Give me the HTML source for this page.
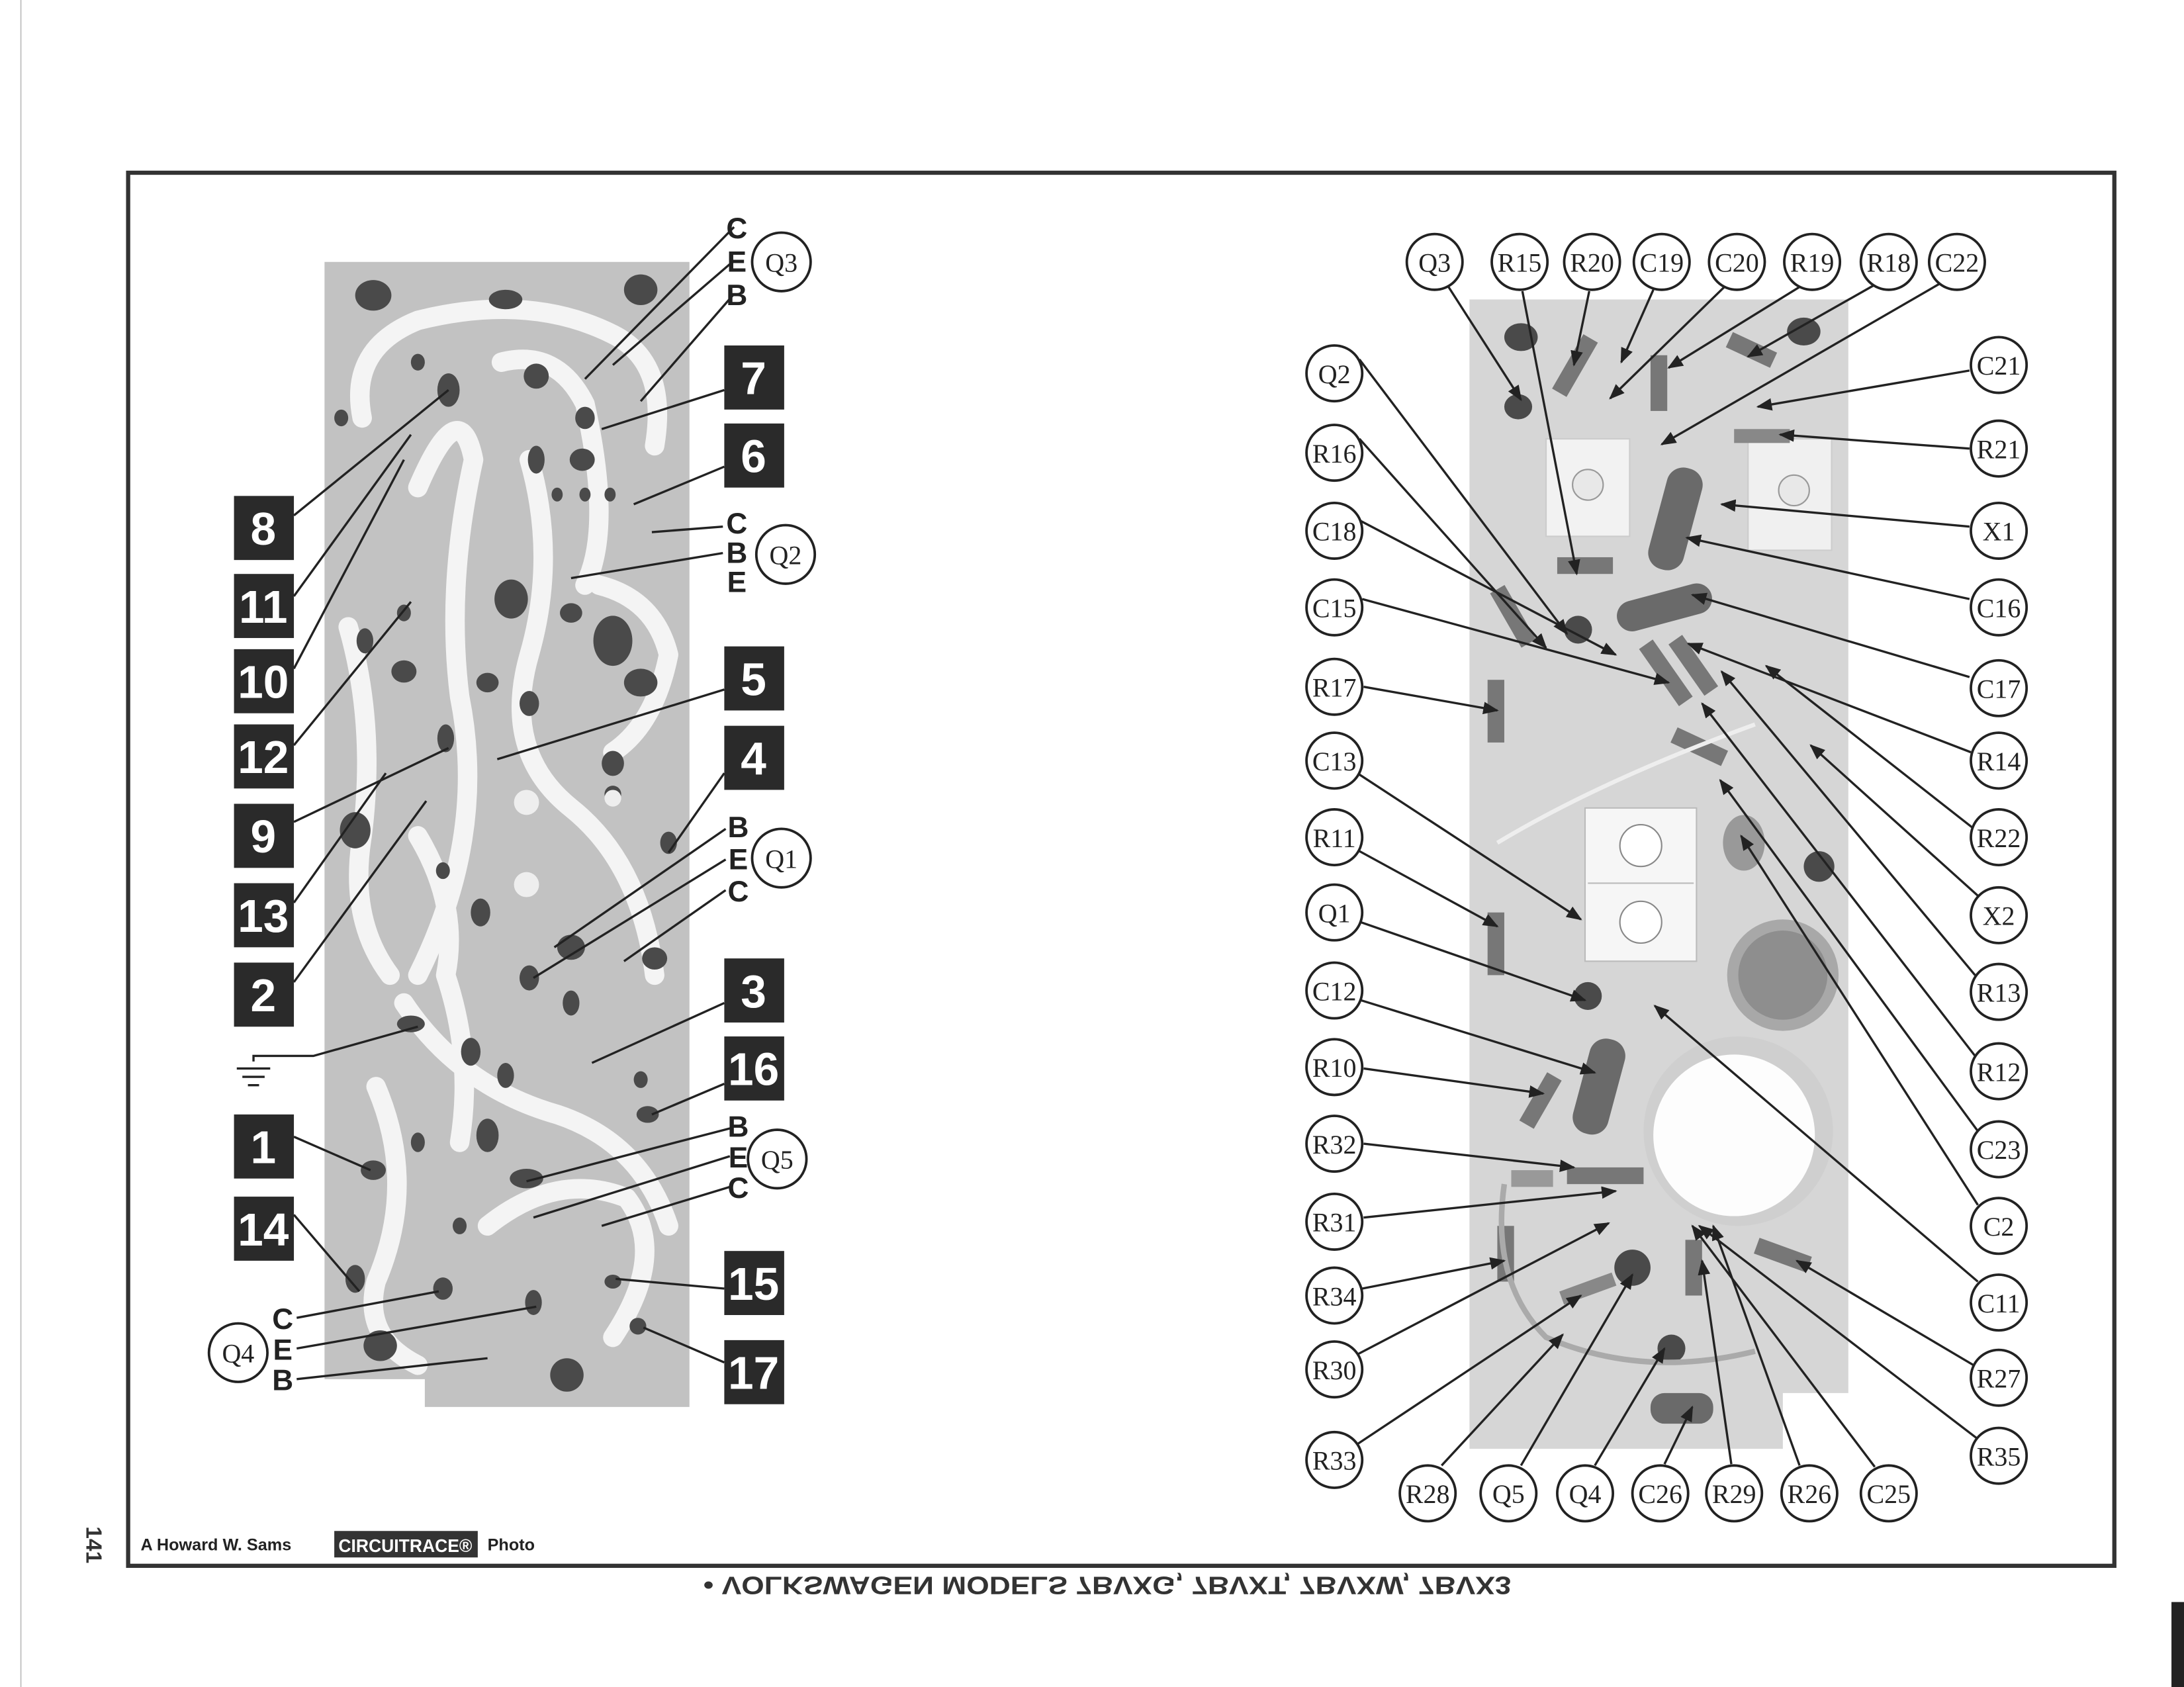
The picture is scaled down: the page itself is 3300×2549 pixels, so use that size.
<!DOCTYPE html>
<html><head><meta charset="utf-8"><style>
html,body{margin:0;padding:0;background:#fff;}
svg{display:block;}
.bx{fill:#2a2a2a;}
.bt{fill:#fff;font-family:"Liberation Sans",sans-serif;font-weight:bold;font-size:33px;text-anchor:middle;}
.lt{fill:#222;font-family:"Liberation Sans",sans-serif;font-weight:bold;font-size:21px;text-anchor:middle;}
.ct{fill:#222;font-family:"Liberation Serif",serif;font-size:19px;text-anchor:middle;}
.ln{stroke:#222;stroke-width:1.6;fill:none;}
.cc{fill:#fff;stroke:#222;stroke-width:1.8;}
.tr{fill:none;stroke:#f4f4f4;stroke-linecap:round;stroke-linejoin:round;}
.bl{fill:#4a4a4a;}
.cp{fill:#6a6a6a;}
</style></head><body>
<svg width="3300" height="2549" viewBox="0 0 1568 1211" preserveAspectRatio="none" xmlns="http://www.w3.org/2000/svg">
<defs>
<marker id="ar" viewBox="0 0 10 10" refX="9" refY="5" markerWidth="7" markerHeight="7" orient="auto"><path d="M0,1 L10,5 L0,9 z" fill="#222"/></marker>
</defs>
<rect x="0" y="0" width="1568" height="1211" fill="#fff"/>
<line x1="15" y1="0" x2="15" y2="1211" stroke="#bbb" stroke-width="0.8"/>
<rect x="1559" y="1150" width="9" height="61" fill="#222"/>
<rect x="92" y="124" width="1426" height="1000" fill="none" stroke="#333" stroke-width="3"/>

<path d="M233,188 L495,188 L495,1010 L305,1010 L305,990 L233,990 Z" fill="#c2c2c2"/>
<g class="tr" stroke-width="14">
<path d="M260,300 Q250,250 300,230 Q380,210 440,240 Q480,260 470,320"/>
<path d="M300,350 Q330,280 340,330 Q320,420 330,500 Q350,600 300,700"/>
<path d="M360,260 Q400,250 420,290 Q440,380 420,420"/>
<path d="M250,450 Q270,520 260,600 Q250,660 280,700"/>
<path d="M380,330 Q400,400 380,470 Q360,540 410,580 Q460,620 470,700"/>
<path d="M290,720 Q330,780 400,800 Q460,820 480,880"/>
<path d="M270,780 Q300,850 270,920 Q260,960 300,980"/>
<path d="M350,880 Q400,840 450,860 Q480,900 440,960"/>
<path d="M430,420 Q470,430 480,470 Q470,520 440,540"/>
<path d="M300,600 Q330,650 320,700 Q340,760 330,820"/>
</g>
<g class="bl">
<ellipse cx="268" cy="212" rx="13" ry="11"/><ellipse cx="460" cy="208" rx="12" ry="11"/>
<ellipse cx="255" cy="596" rx="11" ry="13"/><ellipse cx="273" cy="966" rx="12" ry="11"/>
<ellipse cx="407" cy="987" rx="12" ry="12"/>
<ellipse cx="322" cy="280" rx="8" ry="12"/><ellipse cx="385" cy="270" rx="9" ry="9"/><ellipse cx="363" cy="215" rx="12" ry="7"/>
<ellipse cx="420" cy="300" rx="7" ry="8"/><ellipse cx="385" cy="330" rx="6" ry="10"/><ellipse cx="418" cy="330" rx="9" ry="8"/>
<ellipse cx="400" cy="355" rx="4" ry="5"/><ellipse cx="420" cy="355" rx="4" ry="5"/><ellipse cx="438" cy="355" rx="4" ry="5"/>
<ellipse cx="367" cy="430" rx="12" ry="14"/><ellipse cx="440" cy="460" rx="14" ry="18"/><ellipse cx="460" cy="490" rx="12" ry="10"/>
<ellipse cx="350" cy="490" rx="8" ry="7"/><ellipse cx="380" cy="505" rx="7" ry="9"/><ellipse cx="410" cy="440" rx="8" ry="7"/>
<ellipse cx="290" cy="482" rx="9" ry="8"/><ellipse cx="320" cy="530" rx="6" ry="10"/><ellipse cx="262" cy="460" rx="6" ry="9"/>
<ellipse cx="440" cy="548" rx="8" ry="9"/><ellipse cx="440" cy="570" rx="6" ry="6"/><ellipse cx="480" cy="605" rx="6" ry="8"/>
<ellipse cx="345" cy="655" rx="7" ry="10"/><ellipse cx="318" cy="625" rx="5" ry="6"/><ellipse cx="410" cy="680" rx="10" ry="9"/>
<ellipse cx="380" cy="702" rx="7" ry="9"/><ellipse cx="410" cy="720" rx="6" ry="9"/><ellipse cx="470" cy="688" rx="9" ry="8"/>
<ellipse cx="295" cy="735" rx="10" ry="6"/><ellipse cx="338" cy="755" rx="7" ry="10"/><ellipse cx="363" cy="772" rx="6" ry="9"/>
<ellipse cx="350" cy="815" rx="8" ry="12"/><ellipse cx="268" cy="840" rx="9" ry="7"/><ellipse cx="378" cy="846" rx="12" ry="7"/>
<ellipse cx="255" cy="918" rx="7" ry="10"/><ellipse cx="318" cy="925" rx="7" ry="8"/><ellipse cx="383" cy="935" rx="6" ry="9"/>
<ellipse cx="465" cy="800" rx="8" ry="6"/><ellipse cx="460" cy="775" rx="5" ry="6"/><ellipse cx="440" cy="920" rx="6" ry="5"/>
<ellipse cx="458" cy="952" rx="6" ry="6"/><ellipse cx="300" cy="820" rx="5" ry="7"/><ellipse cx="330" cy="880" rx="5" ry="6"/>
<ellipse cx="300" cy="260" rx="5" ry="6"/><ellipse cx="245" cy="300" rx="5" ry="6"/><ellipse cx="290" cy="440" rx="5" ry="6"/>
</g>
<g fill="#eee"><circle cx="378" cy="576" r="9"/><circle cx="378" cy="635" r="9"/><circle cx="440" cy="573" r="6"/></g>

<g class="ln">
<line x1="527" y1="163" x2="420" y2="272"/><line x1="527" y1="187" x2="440" y2="262"/><line x1="527" y1="211" x2="460" y2="288"/>
<line x1="520" y1="280" x2="432" y2="308"/><line x1="520" y1="335" x2="455" y2="362"/>
<line x1="519" y1="378" x2="468" y2="382"/><line x1="519" y1="397" x2="410" y2="415"/>
<line x1="520" y1="495" x2="357" y2="545"/><line x1="520" y1="555" x2="480" y2="612"/>
<line x1="521" y1="595" x2="398" y2="680"/><line x1="521" y1="617" x2="383" y2="702"/><line x1="521" y1="639" x2="448" y2="690"/>
<line x1="520" y1="720" x2="425" y2="763"/><line x1="520" y1="778" x2="468" y2="800"/>
<line x1="524" y1="810" x2="378" y2="848"/><line x1="524" y1="830" x2="383" y2="874"/><line x1="524" y1="852" x2="432" y2="880"/>
<line x1="520" y1="925" x2="442" y2="918"/><line x1="520" y1="978" x2="462" y2="953"/>
<line x1="211" y1="370" x2="322" y2="280"/><line x1="211" y1="428" x2="295" y2="312"/><line x1="211" y1="480" x2="290" y2="330"/>
<line x1="211" y1="535" x2="295" y2="432"/><line x1="211" y1="590" x2="322" y2="537"/><line x1="211" y1="648" x2="277" y2="555"/>
<line x1="211" y1="705" x2="306" y2="575"/><line x1="211" y1="816" x2="266" y2="840"/><line x1="211" y1="872" x2="258" y2="927"/>
<line x1="213" y1="946" x2="315" y2="927"/><line x1="213" y1="968" x2="385" y2="938"/><line x1="213" y1="990" x2="350" y2="975"/>
<polyline points="182,762 182,758 225,758 300,737"/>
<line x1="170" y1="767" x2="194" y2="767"/><line x1="174" y1="773" x2="190" y2="773"/><line x1="178" y1="779" x2="186" y2="779"/>
</g>

<g>
<rect class="bx" x="520" y="248" width="43" height="46"/><text class="bt" x="541" y="283">7</text>
<rect class="bx" x="520" y="304" width="43" height="46"/><text class="bt" x="541" y="339">6</text>
<rect class="bx" x="520" y="464" width="43" height="46"/><text class="bt" x="541" y="499">5</text>
<rect class="bx" x="520" y="521" width="43" height="46"/><text class="bt" x="541" y="556">4</text>
<rect class="bx" x="520" y="688" width="43" height="46"/><text class="bt" x="541" y="723">3</text>
<rect class="bx" x="520" y="744" width="43" height="46"/><text class="bt" x="541" y="779">16</text>
<rect class="bx" x="520" y="898" width="43" height="46"/><text class="bt" x="541" y="933">15</text>
<rect class="bx" x="520" y="962" width="43" height="46"/><text class="bt" x="541" y="997">17</text>
<rect class="bx" x="168" y="356" width="43" height="46"/><text class="bt" x="189" y="391">8</text>
<rect class="bx" x="168" y="412" width="43" height="46"/><text class="bt" x="189" y="447">11</text>
<rect class="bx" x="168" y="466" width="43" height="46"/><text class="bt" x="189" y="501">10</text>
<rect class="bx" x="168" y="520" width="43" height="46"/><text class="bt" x="189" y="555">12</text>
<rect class="bx" x="168" y="577" width="43" height="46"/><text class="bt" x="189" y="612">9</text>
<rect class="bx" x="168" y="634" width="43" height="46"/><text class="bt" x="189" y="669">13</text>
<rect class="bx" x="168" y="691" width="43" height="46"/><text class="bt" x="189" y="726">2</text>
<rect class="bx" x="168" y="800" width="43" height="46"/><text class="bt" x="189" y="835">1</text>
<rect class="bx" x="168" y="859" width="43" height="46"/><text class="bt" x="189" y="894">14</text>

<text class="lt" x="529" y="171">C</text><text class="lt" x="529" y="195">E</text><text class="lt" x="529" y="219">B</text>
<circle class="cc" cx="561" cy="188" r="21"/><text class="ct" x="561" y="195">Q3</text>
<text class="lt" x="529" y="383">C</text><text class="lt" x="529" y="404">B</text><text class="lt" x="529" y="425">E</text>
<circle class="cc" cx="564" cy="398" r="21"/><text class="ct" x="564" y="405">Q2</text>
<text class="lt" x="530" y="601">B</text><text class="lt" x="530" y="624">E</text><text class="lt" x="530" y="647">C</text>
<circle class="cc" cx="561" cy="616" r="21"/><text class="ct" x="561" y="623">Q1</text>
<text class="lt" x="530" y="816">B</text><text class="lt" x="530" y="838">E</text><text class="lt" x="530" y="860">C</text>
<circle class="cc" cx="558" cy="832" r="21"/><text class="ct" x="558" y="839">Q5</text>
<text class="lt" x="203" y="954">C</text><text class="lt" x="203" y="976">E</text><text class="lt" x="203" y="998">B</text>
<circle class="cc" cx="171" cy="971" r="21"/><text class="ct" x="171" y="978">Q4</text>
</g>

<path d="M1055,215 L1327,215 L1327,1000 L1280,1000 L1280,1040 L1055,1040 Z" fill="#d6d6d6"/>
<g>
<ellipse cx="1092" cy="242" rx="12" ry="10" class="bl"/><ellipse cx="1295" cy="238" rx="12" ry="10" class="bl"/>
<ellipse cx="1090" cy="292" rx="10" ry="9" class="bl"/><ellipse cx="1306" cy="622" rx="11" ry="11" class="bl"/>
<ellipse cx="1200" cy="968" rx="10" ry="10" class="bl"/>
<rect x="1110" y="315" width="60" height="70" fill="#f2f2f2" stroke="#ccc"/><circle cx="1140" cy="348" r="11" fill="#e8e8e8" stroke="#999"/>
<rect x="1255" y="315" width="60" height="80" fill="#f0f0f0" stroke="#ccc"/><circle cx="1288" cy="352" r="11" fill="#e8e8e8" stroke="#999"/>
<rect x="1138" y="580" width="80" height="110" fill="#f6f6f6" stroke="#bbb"/>
<circle cx="1178" cy="607" r="15" fill="#fff" stroke="#888"/><circle cx="1178" cy="662" r="15" fill="#fff" stroke="#888"/>
<line x1="1140" y1="634" x2="1216" y2="634" stroke="#bbb"/>
<circle cx="1248" cy="812" r="68" fill="#cfcfcf"/><circle cx="1245" cy="815" r="58" fill="#fdfdfd"/>
<circle cx="1280" cy="700" r="40" fill="#a8a8a8"/><circle cx="1280" cy="700" r="32" fill="#8e8e8e"/>
<ellipse cx="1252" cy="605" rx="15" ry="20" fill="#999"/>
<rect x="1190" y="335" width="26" height="75" rx="12" transform="rotate(15 1203 372)" class="cp"/>
<rect x="1160" y="425" width="70" height="22" rx="11" transform="rotate(-15 1195 436)" class="cp"/>
<rect x="1135" y="745" width="26" height="70" rx="12" transform="rotate(15 1148 780)" class="cp"/>
<rect x="1185" y="1000" width="45" height="22" rx="10" class="cp"/>
<circle cx="1172" cy="910" r="13" class="bl"/><circle cx="1140" cy="715" r="10" class="bl"/><circle cx="1133" cy="452" r="10" class="bl"/>
<rect x="1118" y="400" width="40" height="12" fill="#777"/>
<rect x="1068" y="488" width="12" height="45" fill="#777"/><rect x="1068" y="655" width="12" height="45" fill="#777"/>
<rect x="1080" y="420" width="12" height="45" fill="#777" transform="rotate(-30 1086 442)"/>
<rect x="1190" y="458" width="12" height="50" fill="#777" transform="rotate(-35 1196 483)"/>
<rect x="1210" y="455" width="12" height="45" fill="#777" transform="rotate(-35 1216 478)"/>
<rect x="1200" y="530" width="40" height="12" fill="#777" transform="rotate(25 1220 536)"/>
<rect x="1125" y="838" width="55" height="12" fill="#777"/><rect x="1100" y="770" width="12" height="40" fill="#777" transform="rotate(30 1106 790)"/>
<rect x="1085" y="840" width="30" height="12" fill="#999"/>
<rect x="1075" y="880" width="12" height="40" fill="#777"/><rect x="1210" y="890" width="12" height="40" fill="#777"/>
<rect x="1260" y="895" width="40" height="12" fill="#777" transform="rotate(20 1280 901)"/>
<rect x="1120" y="920" width="40" height="10" fill="#888" transform="rotate(-20 1140 925)"/>
<rect x="1125" y="240" width="12" height="45" fill="#777" transform="rotate(30 1131 262)"/>
<rect x="1185" y="255" width="12" height="40" fill="#777"/><rect x="1240" y="245" width="35" height="12" fill="#777" transform="rotate(25 1257 251)"/>
<rect x="1245" y="308" width="40" height="10" fill="#888"/>
<path d="M1075,605 Q1150,560 1260,520" stroke="#eee" stroke-width="3" fill="none"/>
<path d="M1080,850 Q1070,920 1110,960 Q1180,990 1260,970" stroke="#aaa" stroke-width="4" fill="none"/>
</g>

<g class="ln" marker-end="url(#ar)">
<line x1="1040" y1="206" x2="1092" y2="287"/>
<line x1="1093" y1="209" x2="1132" y2="412"/>
<line x1="1141" y1="209" x2="1130" y2="262"/>
<line x1="1187" y1="208" x2="1164" y2="260"/>
<line x1="1238" y1="206" x2="1156" y2="286"/>
<line x1="1292" y1="206" x2="1198" y2="264"/>
<line x1="1345" y1="205" x2="1255" y2="256"/>
<line x1="1392" y1="204" x2="1193" y2="319"/>
<line x1="1414" y1="266" x2="1262" y2="292"/>
<line x1="1414" y1="322" x2="1278" y2="312"/>
<line x1="1414" y1="378" x2="1236" y2="362"/>
<line x1="1414" y1="430" x2="1211" y2="386"/>
<line x1="1414" y1="486" x2="1215" y2="427"/>
<line x1="1415" y1="540" x2="1212" y2="462"/>
<line x1="1416" y1="594" x2="1268" y2="478"/>
<line x1="1420" y1="643" x2="1300" y2="535"/>
<line x1="1418" y1="700" x2="1236" y2="482"/>
<line x1="1418" y1="758" x2="1222" y2="505"/>
<line x1="1420" y1="812" x2="1235" y2="560"/>
<line x1="1420" y1="865" x2="1250" y2="600"/>
<line x1="1420" y1="920" x2="1188" y2="722"/>
<line x1="1417" y1="980" x2="1290" y2="905"/>
<line x1="1420" y1="1033" x2="1220" y2="880"/>
<line x1="976" y1="258" x2="1125" y2="455"/>
<line x1="976" y1="315" x2="1110" y2="465"/>
<line x1="977" y1="374" x2="1160" y2="470"/>
<line x1="978" y1="430" x2="1198" y2="490"/>
<line x1="979" y1="493" x2="1075" y2="510"/>
<line x1="976" y1="556" x2="1135" y2="660"/>
<line x1="976" y1="611" x2="1075" y2="665"/>
<line x1="977" y1="662" x2="1138" y2="718"/>
<line x1="977" y1="718" x2="1145" y2="770"/>
<line x1="979" y1="767" x2="1108" y2="785"/>
<line x1="979" y1="821" x2="1130" y2="838"/>
<line x1="979" y1="874" x2="1160" y2="855"/>
<line x1="978" y1="925" x2="1080" y2="905"/>
<line x1="975" y1="972" x2="1155" y2="878"/>
<line x1="974" y1="1037" x2="1135" y2="930"/>
<line x1="1035" y1="1052" x2="1122" y2="958"/>
<line x1="1092" y1="1052" x2="1172" y2="915"/>
<line x1="1145" y1="1052" x2="1195" y2="968"/>
<line x1="1195" y1="1051" x2="1215" y2="1010"/>
<line x1="1243" y1="1051" x2="1222" y2="905"/>
<line x1="1292" y1="1052" x2="1230" y2="880"/>
<line x1="1346" y1="1053" x2="1215" y2="880"/>
</g>

<g>
<circle class="cc" cx="1030" cy="188" r="20"/><text class="ct" x="1030" y="195">Q3</text>
<circle class="cc" cx="1091" cy="188" r="20"/><text class="ct" x="1091" y="195">R15</text>
<circle class="cc" cx="1143" cy="188" r="20"/><text class="ct" x="1143" y="195">R20</text>
<circle class="cc" cx="1193" cy="188" r="20"/><text class="ct" x="1193" y="195">C19</text>
<circle class="cc" cx="1247" cy="188" r="20"/><text class="ct" x="1247" y="195">C20</text>
<circle class="cc" cx="1301" cy="188" r="20"/><text class="ct" x="1301" y="195">R19</text>
<circle class="cc" cx="1356" cy="188" r="20"/><text class="ct" x="1356" y="195">R18</text>
<circle class="cc" cx="1405" cy="188" r="20"/><text class="ct" x="1405" y="195">C22</text>

<circle class="cc" cx="958" cy="268" r="20"/><text class="ct" x="958" y="275">Q2</text>
<circle class="cc" cx="958" cy="325" r="20"/><text class="ct" x="958" y="332">R16</text>
<circle class="cc" cx="958" cy="381" r="20"/><text class="ct" x="958" y="388">C18</text>
<circle class="cc" cx="958" cy="436" r="20"/><text class="ct" x="958" y="443">C15</text>
<circle class="cc" cx="958" cy="493" r="20"/><text class="ct" x="958" y="500">R17</text>
<circle class="cc" cx="958" cy="546" r="20"/><text class="ct" x="958" y="553">C13</text>
<circle class="cc" cx="958" cy="601" r="20"/><text class="ct" x="958" y="608">R11</text>
<circle class="cc" cx="958" cy="655" r="20"/><text class="ct" x="958" y="662">Q1</text>
<circle class="cc" cx="958" cy="711" r="20"/><text class="ct" x="958" y="718">C12</text>
<circle class="cc" cx="958" cy="766" r="20"/><text class="ct" x="958" y="773">R10</text>
<circle class="cc" cx="958" cy="821" r="20"/><text class="ct" x="958" y="828">R32</text>
<circle class="cc" cx="958" cy="877" r="20"/><text class="ct" x="958" y="884">R31</text>
<circle class="cc" cx="958" cy="930" r="20"/><text class="ct" x="958" y="937">R34</text>
<circle class="cc" cx="958" cy="983" r="20"/><text class="ct" x="958" y="990">R30</text>
<circle class="cc" cx="958" cy="1048" r="20"/><text class="ct" x="958" y="1055">R33</text>

<circle class="cc" cx="1435" cy="262" r="20"/><text class="ct" x="1435" y="269">C21</text>
<circle class="cc" cx="1435" cy="322" r="20"/><text class="ct" x="1435" y="329">R21</text>
<circle class="cc" cx="1435" cy="381" r="20"/><text class="ct" x="1435" y="388">X1</text>
<circle class="cc" cx="1435" cy="436" r="20"/><text class="ct" x="1435" y="443">C16</text>
<circle class="cc" cx="1435" cy="494" r="20"/><text class="ct" x="1435" y="501">C17</text>
<circle class="cc" cx="1435" cy="546" r="20"/><text class="ct" x="1435" y="553">R14</text>
<circle class="cc" cx="1435" cy="601" r="20"/><text class="ct" x="1435" y="608">R22</text>
<circle class="cc" cx="1435" cy="657" r="20"/><text class="ct" x="1435" y="664">X2</text>
<circle class="cc" cx="1435" cy="712" r="20"/><text class="ct" x="1435" y="719">R13</text>
<circle class="cc" cx="1435" cy="769" r="20"/><text class="ct" x="1435" y="776">R12</text>
<circle class="cc" cx="1435" cy="825" r="20"/><text class="ct" x="1435" y="832">C23</text>
<circle class="cc" cx="1435" cy="880" r="20"/><text class="ct" x="1435" y="887">C2</text>
<circle class="cc" cx="1435" cy="935" r="20"/><text class="ct" x="1435" y="942">C11</text>
<circle class="cc" cx="1435" cy="989" r="20"/><text class="ct" x="1435" y="996">R27</text>
<circle class="cc" cx="1435" cy="1045" r="20"/><text class="ct" x="1435" y="1052">R35</text>

<circle class="cc" cx="1025" cy="1072" r="20"/><text class="ct" x="1025" y="1079">R28</text>
<circle class="cc" cx="1083" cy="1072" r="20"/><text class="ct" x="1083" y="1079">Q5</text>
<circle class="cc" cx="1138" cy="1072" r="20"/><text class="ct" x="1138" y="1079">Q4</text>
<circle class="cc" cx="1192" cy="1072" r="20"/><text class="ct" x="1192" y="1079">C26</text>
<circle class="cc" cx="1245" cy="1072" r="20"/><text class="ct" x="1245" y="1079">R29</text>
<circle class="cc" cx="1299" cy="1072" r="20"/><text class="ct" x="1299" y="1079">R26</text>
<circle class="cc" cx="1356" cy="1072" r="20"/><text class="ct" x="1356" y="1079">C25</text>
</g>

<text x="101" y="1113" font-family="Liberation Sans, sans-serif" font-weight="bold" font-size="12" fill="#222">A Howard W. Sams</text>
<rect x="240" y="1099" width="103" height="19" fill="#333"/>
<text x="291" y="1114" font-family="Liberation Sans, sans-serif" font-weight="bold" font-size="13" fill="#fff" text-anchor="middle" textLength="96" lengthAdjust="spacingAndGlyphs">CIRCUITRACE®</text>
<text x="350" y="1113" font-family="Liberation Sans, sans-serif" font-weight="bold" font-size="12" fill="#222">Photo</text>
<text transform="translate(62,1109) rotate(90)" font-family="Liberation Sans, sans-serif" font-weight="bold" font-size="16" fill="#333" text-anchor="middle">141</text>
<g transform="translate(0,2276) scale(1,-1)">
<text x="1085" y="1144" font-family="Liberation Sans, sans-serif" font-weight="bold" font-size="18" fill="#333" text-anchor="end" textLength="580" lengthAdjust="spacingAndGlyphs">• VOLKSWAGEN MODELS 7BVXG, 7BVXT, 7BVXW, 7BVX3</text>
</g>
</svg>
</body></html>
